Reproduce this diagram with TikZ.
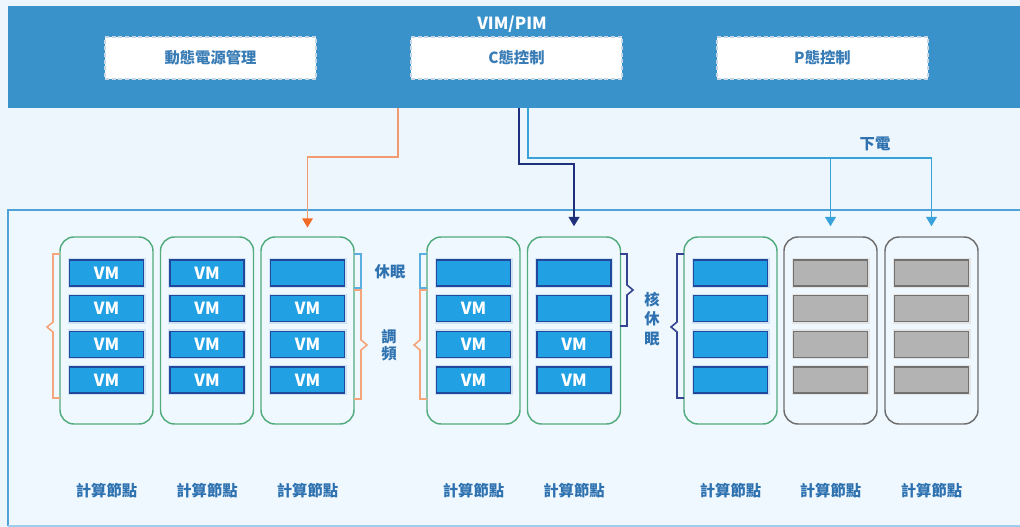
\documentclass[tikz,border=0pt]{standalone}
\usepackage{fontspec}
\setmainfont{Noto Sans CJK TC}
\usetikzlibrary{arrows.meta}
\definecolor{bgc}{HTML}{EEF6FD}
\definecolor{panelfill}{HTML}{F0F8FF}
\definecolor{hdr}{HTML}{3A92CA}
\definecolor{hdrtxt}{HTML}{3A7DB6}
\definecolor{lbl}{HTML}{2F72B0}
\definecolor{panelb}{HTML}{4FA3D6}
\definecolor{panelbl}{HTML}{9FCDEB}
\definecolor{vmfill}{HTML}{22A0E4}
\definecolor{vmdraw}{HTML}{21489A}
\definecolor{halo}{HTML}{CFE2F3}
\definecolor{grayfill}{HTML}{B3B3B3}
\definecolor{graydraw}{HTML}{717171}
\definecolor{nodegreen}{HTML}{52AB7C}
\definecolor{nodegray}{HTML}{6E6E6E}
\definecolor{orangeL}{HTML}{F39B70}
\definecolor{orangeT}{HTML}{F26B26}
\definecolor{navy}{HTML}{1E2F7C}
\definecolor{ltblue}{HTML}{3AA2DA}
\definecolor{bracketblue}{HTML}{5AAEE0}
\definecolor{bracketorange}{HTML}{F4A57C}
\definecolor{bracketnavy}{HTML}{34448F}
\definecolor{dashc}{HTML}{C9D6E3}
\tikzset{
  hbox/.style={fill=white, draw=dashc, dash pattern=on 3pt off 2pt, line width=0.8pt,
    minimum width=158.25pt, minimum height=31.5pt, inner sep=0, text=hdrtxt,
    font=\bfseries\fontsize{11.5}{13}\selectfont},
  cnode/.style={draw=nodegreen, rounded corners=10.5pt, line width=1.1pt,
    minimum width=69.75pt, minimum height=140.25pt, inner sep=0},
  gnode/.style={cnode, draw=nodegray},
  vmbox/.style={fill=vmfill, draw=vmdraw, line width=1.1pt, minimum width=55.5pt,
    minimum height=19.5pt, inner sep=0, text=white,
    font=\bfseries\fontsize{12.5}{14}\selectfont,
    preaction={draw=halo, line width=3pt}},
  graybox/.style={vmbox, fill=grayfill, draw=graydraw, preaction={draw=white!80!gray, line width=3pt}},
  lbltext/.style={text=lbl, inner sep=0, font=\bfseries\fontsize{11.5}{13}\selectfont, align=center},
  tip/.style={-{Triangle[width=8pt,length=7pt,color=#1]}},
  oline/.style={draw=orangeL, line width=1.2pt, tip=orangeT, shorten >=6.5pt},
  nline/.style={draw=navy, line width=1.4pt, tip=navy, shorten >=7.5pt},
  lline/.style={draw=ltblue, line width=1.2pt, tip=ltblue, shorten >=7.5pt},
  brk/.style={line width=1.2pt}
}
\begin{document}
\begin{tikzpicture}[x=0.75pt,y=-0.75pt]
\fill[bgc] (0,0) rectangle (1020,527);
\useasboundingbox (0,0) rectangle (1020,527);
% header
\node[fill=hdr, anchor=north west, inner sep=0, minimum width=759pt, minimum height=76.5pt] (header) at (8,6) {};
\node[text=white, inner sep=0, font=\bfseries\fontsize{12.5}{14}\selectfont] (title) at (512,24) {VIM/PIM};
\node[hbox] (dpm) at (210.5,58) {動態電源管理};
\node[hbox] (cst) at (516.5,58) {C態控制};
\node[hbox] (pst) at (822.5,58) {P態控制};
% lower panel
\fill[panelfill] (8,210) rectangle (1020,526);
\draw[panelb, line width=0.9pt] (1020,210) -- (8,210) -- (8,526);
\draw[panelbl, line width=0.9pt] (8,526) -- (1020,526);
% compute nodes
\foreach \i/\cx/\st in {1/106.5/cnode,2/207/cnode,3/307.5/cnode,4/473.5/cnode,5/574/cnode,6/730.5/cnode,7/830.5/gnode,8/931.5/gnode}{
  \node[\st] (n\i) at (\cx,330.5) {};
  \node[lbltext] (l\i) at (\cx,491) {計算節點};
}
\foreach \i/\cx/\st/\ta/\tb/\tc/\td in {1/106.5/vmbox/VM/VM/VM/VM,2/207/vmbox/VM/VM/VM/VM,3/307.5/vmbox//VM/VM/VM,4/473.5/vmbox//VM/VM/VM,5/574/vmbox///VM/VM,6/730.5/vmbox////,7/830.5/graybox////,8/931.5/graybox////}{
  \node[\st] (b\i-1) at (\cx,273) {\ta};
  \node[\st] (b\i-2) at (\cx,308.7) {\tb};
  \node[\st] (b\i-3) at (\cx,344.3) {\tc};
  \node[\st] (b\i-4) at (\cx,380) {\td};
}
% brackets
\draw[brk, bracketorange] (60,254) -- (53,254) -- (53,322) -- (47,327) -- (53,332) -- (53,398) -- (60,398);
\draw[brk, bracketblue] (354,254) -- (361,254) -- (361,288) -- (354,288);
\draw[brk, bracketorange] (354,290) -- (361,290) -- (361,340) -- (367,345) -- (361,350) -- (361,399) -- (354,399);
\draw[brk, bracketblue] (427,254) -- (420,254) -- (420,288) -- (427,288);
\draw[brk, bracketorange] (427,290) -- (420,290) -- (420,340) -- (414,345) -- (420,350) -- (420,399) -- (427,399);
\draw[brk, bracketnavy] (620,254) -- (627,254) -- (627,285) -- (633,290) -- (627,295) -- (627,326) -- (620,326);
\draw[brk, bracketnavy] (684,254) -- (677,254) -- (677,322) -- (671,327) -- (677,332) -- (677,398) -- (684,398);
% bracket labels
\node[lbltext] (sleep) at (390,272) {休眠};
\node[lbltext, font=\bfseries\fontsize{11.5}{12.5}\selectfont] (freq) at (389,345) {調\\頻};
\node[lbltext, font=\bfseries\fontsize{11.5}{14.6}\selectfont] (csleep) at (652,319) {核\\休\\眠};
\node[lbltext] (poff) at (875,144) {下電};
% connectors
\coordinate (so) at (398,108);
\coordinate (sn) at (519,108);
\coordinate (sl) at (528,108);
\draw[oline] (so) -- ++(0,49) -| (n3.north);
\draw[nline] (sn) -- ++(0,56) -| (n5.north);
\draw[lline] (sl) -- ++(0,50) coordinate (lturn) -| (n8.north);
\draw[lline] (lturn -| n7.north) -- (n7.north);
\end{tikzpicture}
\end{document}
